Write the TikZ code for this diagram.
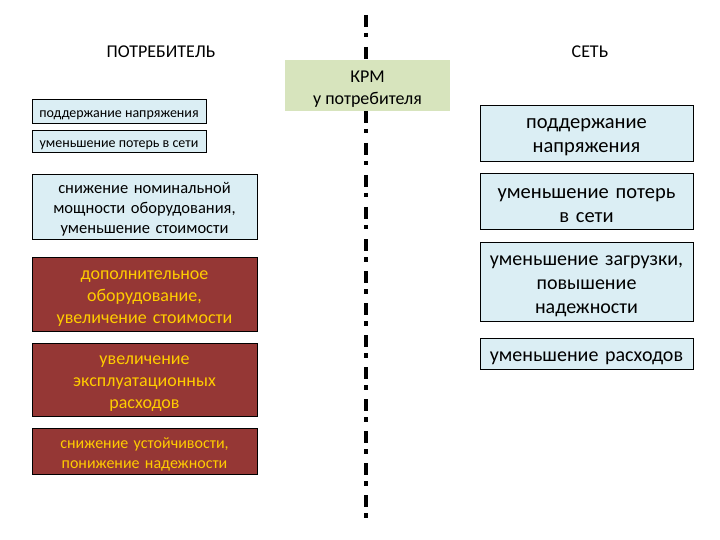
\documentclass[tikz,border=0pt]{standalone}
\usepackage{fontspec}
\setmainfont{Carlito}
\usepackage{xcolor}
\usetikzlibrary{positioning}
\definecolor{cellblue}{HTML}{DBEEF4}
\definecolor{krmgreen}{HTML}{D7E4BD}
\definecolor{lossred}{HTML}{953735}
\definecolor{lossyellow}{HTML}{FFCC00}
% extra room above the first line, so the text sits a little lower in its box
\newcommand{\padtop}{\rule{0pt}{\dimexpr1ex+9pt\relax}}

\begin{document}
\begin{tikzpicture}[x=1pt, y=-1pt]
  % Consumer / grid comparison
  \tikzstyle{gainbox} = [rectangle, draw=black, line width=0.8pt, fill=cellblue, inner sep=1pt, align=center]
  \tikzstyle{lossbox} = [rectangle, draw=black, line width=0.8pt, fill=lossred, text=lossyellow, inner sep=1pt, align=center, minimum width=225pt, text width=221pt]
  \tikzstyle{heading} = [font=\fontsize{18}{20}\selectfont]
  \tikzstyle{divider} = [line width=3.5pt, dash pattern=on 12pt off 6pt on 4.5pt off 9.5pt]

  \useasboundingbox (0,0) rectangle (720,540);

  % Headings
  \node[heading] (consumer) at (161,52) {ПОТРЕБИТЕЛЬ};
  \node[heading] (grid) at (590,52) {СЕТЬ};

  % Divider
  \coordinate (divtop) at (366,15);
  \coordinate (divbot) at (366,521);
  \draw[divider] (divtop) -- (divbot);

  % Compensation device
  \node[rectangle, fill=krmgreen, minimum width=165pt, minimum height=50pt, align=center, font=\fontsize{18}{21.5}\selectfont] (krm) at (367.5,85.5) {\rule{0pt}{19pt}КРМ\\у потребителя};

  % Consumer side
  \node[gainbox, minimum width=174pt, minimum height=24pt, font=\fontsize{14}{16}\selectfont] (cvolt) at (119,111) {\padtop поддержание напряжения};
  \node[gainbox, minimum width=174pt, minimum height=22pt, font=\fontsize{14}{16}\selectfont] (closs) at (119,141) {\padtop уменьшение потерь в сети};
  \node[gainbox, minimum width=225pt, minimum height=65pt, text width=221pt, font=\fontsize{16.5}{20}\selectfont] (cpower) at (144.5,206.5) {\padtop снижение номинальной\\мощности оборудования,\\уменьшение стоимости};
  \node[lossbox, minimum height=74pt, font=\fontsize{18}{22}\selectfont] (cequip) at (144.5,294.5) {\padtop дополнительное\\оборудование,\\увеличение стоимости};
  \node[lossbox, minimum height=73pt, font=\fontsize{18}{22}\selectfont] (cexpl) at (144.5,379.5) {\padtop увеличение\\эксплуатационных\\расходов};
  \node[lossbox, minimum height=46pt, font=\fontsize{16}{20}\selectfont] (cstab) at (144.5,451) {\padtop снижение устойчивости,\\понижение надежности};

  % Grid side
  \node[gainbox, minimum width=213pt, minimum height=56pt, text width=209pt, font=\fontsize{20.5}{24}\selectfont] (gvolt) at (586.5,133) {\padtop поддержание\\напряжения};
  \node[gainbox, minimum width=213pt, minimum height=56pt, text width=209pt, font=\fontsize{20.5}{24}\selectfont] (gloss) at (586.5,201.5) {\padtop уменьшение потерь\\в сети};
  \node[gainbox, minimum width=213pt, minimum height=79pt, text width=209pt, font=\fontsize{20}{24}\selectfont] (gload) at (586.5,281.5) {\padtop уменьшение загрузки,\\повышение\\надежности};
  \node[gainbox, minimum width=213pt, minimum height=31pt, text width=209pt, font=\fontsize{20}{24}\selectfont] (gcost) at (586.5,353.5) {\padtop уменьшение расходов};

\end{tikzpicture}
\end{document}
